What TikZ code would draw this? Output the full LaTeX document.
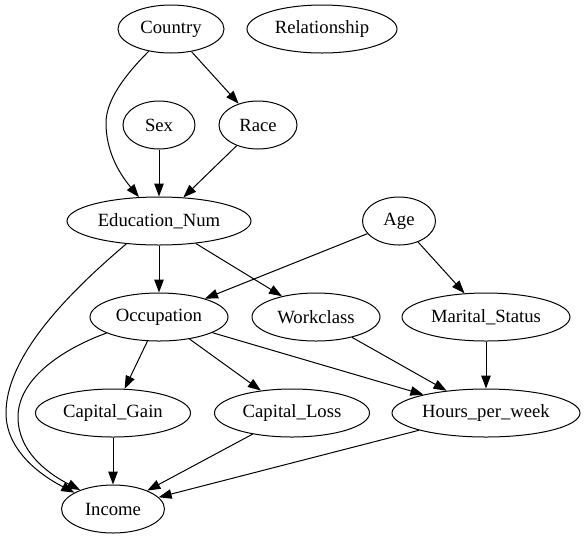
\documentclass[tikz,border=0pt]{standalone}
\usepackage{fontspec}
\setmainfont{Liberation Serif}
\usetikzlibrary{shapes.geometric,arrows.meta}
\begin{document}
\begin{tikzpicture}[x=1pt,y=-1pt,
  nd/.style={draw, ellipse, line width=1pt, inner sep=0pt, minimum height=48pt,
    font=\fontsize{18.67}{22}\selectfont},
  ed/.style={line width=1pt, -{Triangle[length=13pt,width=9.5pt]}}]
\useasboundingbox (0,0) rectangle (585,539);

\node[nd, minimum width=106pt] (country) at (171,29) {Country};
\node[nd, minimum width=150pt] (rel) at (322,29) {Relationship};
\node[nd, minimum width=72pt] (sex) at (159,125) {Sex};
\node[nd, minimum width=78pt] (race) at (258,125) {Race};
\node[nd, minimum width=184pt] (edu) at (159,221) {Education\_Num};
\node[nd, minimum width=73pt] (age) at (399,221) {Age};
\node[nd, minimum width=138pt] (occ) at (159,317) {Occupation};
\node[nd, minimum width=128pt] (work) at (316,317) {Workclass};
\node[nd, minimum width=168pt] (mar) at (486,317) {Marital\_Status};
\node[nd, minimum width=155pt] (gain) at (113,413) {Capital\_Gain};
\node[nd, minimum width=155pt] (loss) at (292,413) {Capital\_Loss};
\node[nd, minimum width=188pt] (hours) at (486,413) {Hours\_per\_week};
\node[nd, minimum width=103pt] (inc) at (113,509) {Income};

\draw[ed] (country) -- (race);
\draw[ed] (country.225) .. controls (125,75) and (106,100) .. (106,123)
  .. controls (106,150) and (118,172) .. (edu.130);
\draw[ed] (sex) -- (edu);
\draw[ed] (race) -- (edu);
\draw[ed] (edu) -- (occ);
\draw[ed] (edu) -- (work);
\draw[ed] (edu.215) .. controls (60,300) and (6,360) .. (6,413)
  .. controls (6,450) and (40,475) .. (inc.157);
\draw[ed] (age) -- (occ);
\draw[ed] (age) -- (mar);
\draw[ed] (occ) -- (gain);
\draw[ed] (occ) -- (loss);
\draw[ed] (occ) -- (hours);
\draw[ed] (occ.197) .. controls (60,350) and (18,380) .. (18,417)
  .. controls (18,450) and (45,472) .. (inc.150);
\draw[ed] (work) -- (hours);
\draw[ed] (mar) -- (hours);
\draw[ed] (gain) -- (inc);
\draw[ed] (loss) -- (inc);
\draw[ed] (hours) -- (inc);
\end{tikzpicture}
\end{document}
